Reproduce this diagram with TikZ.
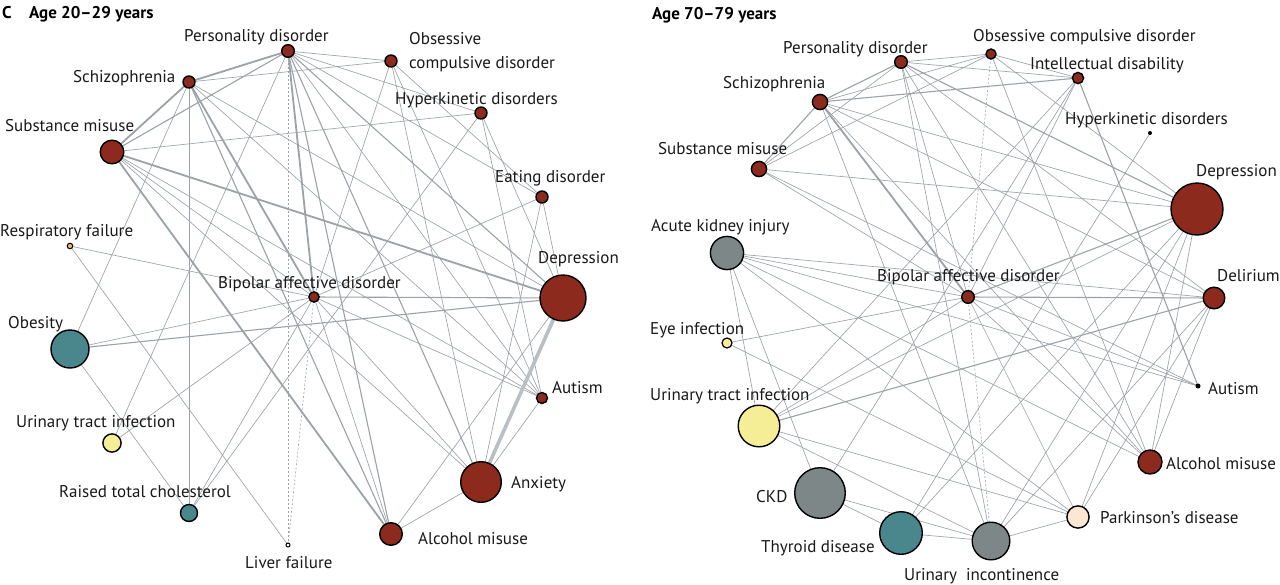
\documentclass[tikz,border=0pt]{standalone}
\usepackage{fontspec}
\setmainfont{PT Sans}
\definecolor{cRed}{RGB}{140,42,30}
\definecolor{cTeal}{RGB}{74,135,140}
\definecolor{cGrey}{RGB}{125,135,135}
\definecolor{cYel}{RGB}{245,238,150}
\definecolor{cOra}{RGB}{240,180,110}
\definecolor{cPea}{RGB}{252,232,210}
\definecolor{cEdge}{RGB}{155,163,168}
\definecolor{cEdgeL}{RGB}{185,191,195}
\pgfdeclarelayer{edges}
\pgfsetlayers{edges,main}
\tikzset{
  nd/.style={circle, draw=black, line width=1.4pt, inner sep=0pt},
  rnode/.style={nd, fill=cRed},
  tnode/.style={nd, fill=cTeal},
  gnode/.style={nd, fill=cGrey},
  ynode/.style={nd, fill=cYel},
  dotnode/.style={circle, fill=black, inner sep=0pt, minimum size=4pt},
  lbl/.style={font=\fontsize{17}{19}\selectfont, text=black!90, anchor=base west, inner sep=0pt, yshift=-6pt},
  ttl/.style={font=\fontsize{17}{19}\selectfont\bfseries, anchor=base west, inner sep=0pt, yshift=-6pt},
  e/.style={draw=cEdge, line width=0.65pt},
  em/.style={draw=cEdge, line width=1.1pt},
  et/.style={draw=cEdge, line width=1.8pt},
  evt/.style={draw=cEdgeL, line width=3.6pt},
  ed/.style={draw=cEdge, line width=0.6pt, dash pattern=on 2pt off 2pt},
}
\begin{document}
\begin{tikzpicture}[x=1pt,y=-1pt]
\useasboundingbox (0,0) rectangle (1280,584);
% ---------- left panel nodes ----------
\node[rnode, minimum size=12.6pt] (lPD) at (288,51) {};
\node[rnode, minimum size=12pt] (lOCD) at (391,61) {};
\node[rnode, minimum size=12pt] (lSz) at (189,82) {};
\node[rnode, minimum size=12pt] (lHK) at (481,113) {};
\node[rnode, minimum size=23.6pt] (lSM) at (112,152) {};
\node[rnode, minimum size=12pt] (lED) at (542,197) {};
\node[nd, fill=cOra, line width=1pt, minimum size=5.6pt] (lRF) at (70,246) {};
\node[rnode, minimum size=46pt] (lDep) at (563,298) {};
\node[rnode, minimum size=10.2pt] (lBP) at (314,297) {};
\node[tnode, minimum size=38pt] (lOb) at (70,349) {};
\node[rnode, minimum size=11pt] (lAu) at (542,398) {};
\node[ynode, minimum size=18.2pt] (lUTI) at (112,443) {};
\node[rnode, minimum size=40.6pt] (lAnx) at (481,482) {};
\node[tnode, minimum size=17pt] (lRTC) at (189,513) {};
\node[rnode, minimum size=22.6pt] (lAM) at (391,534) {};
\node[nd, fill=white, line width=1pt, minimum size=4pt] (lLF) at (288,545) {};
% ---------- right panel nodes ----------
\node[rnode, minimum size=12.6pt] (rPD) at (901,62) {};
\node[rnode, minimum size=10pt] (rOCD) at (991,54) {};
\node[rnode, minimum size=11.2pt] (rID) at (1078,78) {};
\node[rnode, minimum size=15.2pt] (rSz) at (820,102) {};
\node[dotnode] (rHK) at (1150,133) {};
\node[rnode, minimum size=15.2pt] (rSM) at (759,169) {};
\node[rnode, minimum size=52pt] (rDep) at (1197,209) {};
\node[gnode, minimum size=33.2pt] (rAKI) at (727,253) {};
\node[rnode, minimum size=12.6pt] (rBP) at (968,297) {};
\node[rnode, minimum size=21.6pt] (rDel) at (1214,298) {};
\node[ynode, line width=1.2pt, minimum size=10pt] (rEye) at (727,343) {};
\node[dotnode, minimum size=5pt] (rAu) at (1198,386) {};
\node[ynode, minimum size=41.6pt] (rUTI) at (759,426) {};
\node[rnode, minimum size=24pt] (rAM) at (1150,462) {};
\node[gnode, minimum size=50.6pt] (rCKD) at (820,493) {};
\node[nd, fill=cPea, minimum size=22.2pt] (rPark) at (1078,517) {};
\node[tnode, minimum size=42.6pt] (rThy) at (901,533) {};
\node[gnode, minimum size=37.6pt] (rUI) at (991,541) {};
% ---------- edges ----------
\begin{pgfonlayer}{edges}
\fill[white] (0,0) rectangle (1280,584);
% left thin
\foreach \a/\b in {lPD/lOCD, lPD/lHK, lPD/lED, lPD/lAu, lPD/lUTI, lSz/lOCD, lSz/lDep,
  lSz/lAu, lSz/lRTC, lSz/lOb, lSM/lHK, lSM/lBP, lSM/lAu, lSM/lAnx, lOCD/lED, lOCD/lAu,
  lOCD/lAnx, lOCD/lBP, lHK/lAu, lHK/lDep, lHK/lRTC, lED/lDep, lED/lBP, lED/lAnx,
  lDep/lAM, lAu/lBP, lAu/lAnx, lAnx/lBP, lAnx/lAM, lAM/lBP, lOb/lBP, lOb/lRTC,
  lUTI/lBP, lRTC/lBP, lLF/lRF, lRF/lBP}
  \draw[e] (\a.center) -- (\b.center);
\foreach \a/\b in {lPD/lLF, lLF/lBP}
  \draw[ed] (\a.center) -- (\b.center);
% left medium
\foreach \a/\b in {lPD/lSM, lPD/lDep, lPD/lAnx, lPD/lAM, lSz/lAM, lDep/lBP, lDep/lOb}
  \draw[em] (\a.center) -- (\b.center);
% left thick
\foreach \a/\b in {lPD/lSz, lPD/lBP, lSz/lSM, lSz/lBP, lSM/lAM, lSM/lDep}
  \draw[et] (\a.center) -- (\b.center);
\draw[evt] (lDep.center) -- (lAnx.center);
% right thin
\foreach \a/\b in {rPD/rOCD, rPD/rID, rPD/rSM, rPD/rBP, rPD/rAM, rPD/rDel, rPD/rUI,
  rSz/rOCD, rSz/rDep, rSz/rDel, rSz/rAM, rSz/rUI, rSM/rOCD, rSM/rDep, rSM/rBP, rSM/rAu,
  rOCD/rDep, rOCD/rID, rOCD/rAM, rID/rBP, rID/rCKD, rID/rUTI, rHK/rThy,
  rAKI/rBP, rAKI/rDel, rAKI/rCKD, rAKI/rUTI, rAKI/rAM, rAKI/rPark, rAKI/rAu,
  rEye/rBP, rEye/rPark, rUTI/rBP, rUTI/rDep, rUTI/rPark, rUTI/rUI,
  rCKD/rThy, rCKD/rUI, rThy/rUI, rThy/rDep, rUI/rDep, rUI/rDel, rUI/rPark,
  rPark/rDep, rPark/rDel, rPark/rBP, rAM/rBP, rAM/rDel, rAM/rDep, rAu/rBP}
  \draw[e] (\a.center) -- (\b.center);
\foreach \a/\b in {rOCD/rBP, rBP/rUI}
  \draw[ed] (\a.center) -- (\b.center);
% right medium
\foreach \a/\b in {rPD/rSz, rPD/rDep, rSz/rID, rSz/rSM, rBP/rDep, rBP/rDel, rUTI/rDel, rID/rAu}
  \draw[em] (\a.center) -- (\b.center);
\draw[et] (rSz.center) -- (rBP.center);
\end{pgfonlayer}
% ---------- left labels ----------
\node[ttl] at (2,12) {C};
\node[ttl] at (29,12) {Age 20–29 years};
\node[lbl] at (184,35) {Personality disorder};
\node[lbl] at (409,38) {Obsessive};
\node[lbl] at (409,62) {compulsive disorder};
\node[lbl] at (73,76) {Schizophrenia};
\node[lbl] at (395,98) {Hyperkinetic disorders};
\node[lbl] at (5,125) {Substance misuse};
\node[lbl] at (495,176) {Eating disorder};
\node[lbl] at (0,230) {Respiratory failure};
\node[lbl] at (538,257) {Depression};
\node[lbl] at (218,282) {Bipolar affective disorder};
\node[lbl] at (8,322) {Obesity};
\node[lbl] at (552,387) {Autism};
\node[lbl] at (16,421) {Urinary tract infection};
\node[lbl] at (511,482) {Anxiety};
\node[lbl] at (59,491) {Raised total cholesterol};
\node[lbl] at (418,538) {Alcohol misuse};
\node[lbl] at (245,562) {Liver failure};
% ---------- right labels ----------
\node[ttl] at (652,13) {Age 70–79 years};
\node[lbl] at (783,47) {Personality disorder};
\node[lbl] at (973,35) {Obsessive compulsive disorder};
\node[lbl] at (1030,63) {Intellectual disability};
\node[lbl] at (723,82) {Schizophrenia};
\node[lbl] at (1065,118) {Hyperkinetic disorders};
\node[lbl] at (658,148) {Substance misuse};
\node[lbl] at (1196,170) {Depression};
\node[lbl] at (651,225) {Acute kidney injury};
\node[lbl] at (877,275) {Bipolar affective disorder};
\node[lbl] at (1217,275) {Delirium};
\node[lbl] at (650,328) {Eye infection};
\node[lbl] at (1208,388) {Autism};
\node[lbl] at (650,394) {Urinary tract infection};
\node[lbl] at (1166,463) {Alcohol misuse};
\node[lbl] at (756,496) {CKD};
\node[lbl] at (1100,517) {Parkinson's disease};
\node[lbl] at (761,546) {Thyroid disease};
\node[lbl] at (904,574) {Urinary\ \ incontinence};
\end{tikzpicture}
\end{document}
